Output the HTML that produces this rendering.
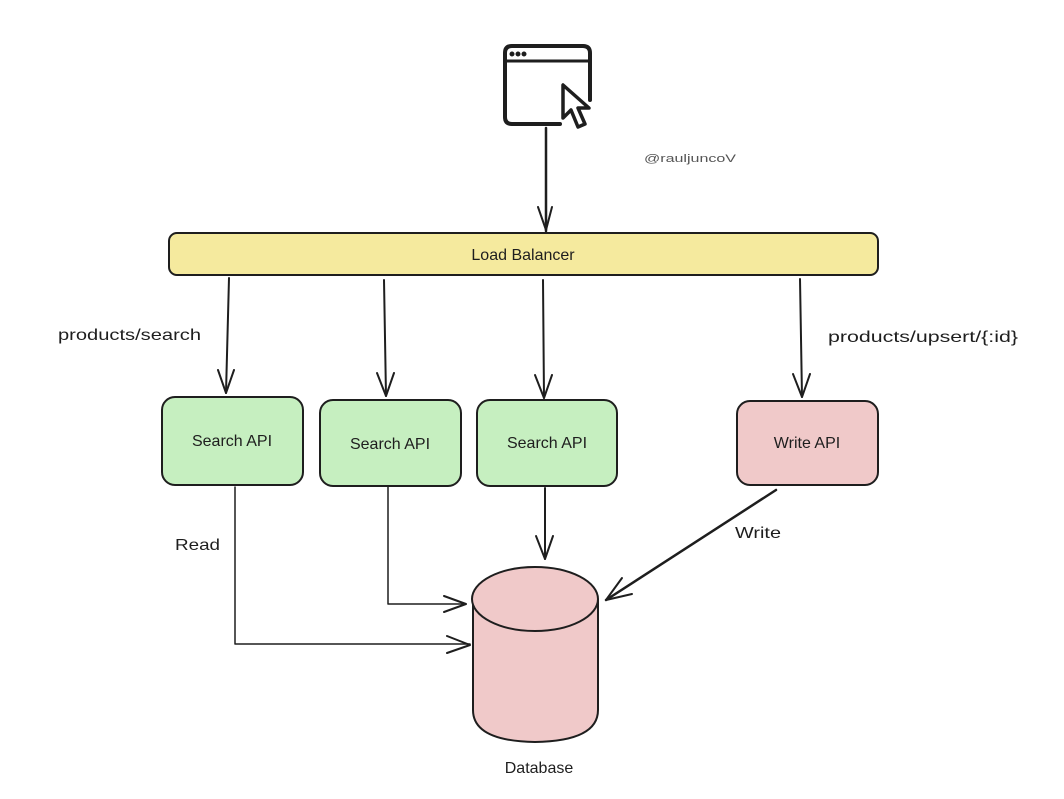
<!DOCTYPE html>
<html><head><meta charset="utf-8"><style>
body{margin:0;background:#fff;width:1064px;height:799px;overflow:hidden}
svg{display:block}
.h{font-family:"Liberation Sans",sans-serif;font-size:16px;fill:#1e1e1e}
.n{font-family:"Liberation Sans",sans-serif;font-size:16px;fill:#1e1e1e}
</style></head><body>
<svg width="1064" height="799" viewBox="0 0 1064 799" xmlns="http://www.w3.org/2000/svg">
<g fill="none" stroke="#1e1e1e" stroke-width="2" stroke-linecap="round" stroke-linejoin="round">
<path d="M560,124 H512 Q505,124 505,117 V53 Q505,46 512,46 H583 Q590,46 590,53 V100" stroke-width="4"/>
<path d="M506,61 H589" stroke-width="3"/>
<path d="M563,85 L563,118 L571,110 L578,127 L585,124 L578,108 L589,108 Z" stroke-width="3.5"/>
<circle cx="512" cy="54" r="1.5" fill="#1e1e1e"/><circle cx="518" cy="54" r="1.5" fill="#1e1e1e"/><circle cx="524" cy="54" r="1.5" fill="#1e1e1e"/>
<path d="M546,128 V231" stroke-width="2.5"/><path d="M538,207 L546,230 L552,207"/>
<rect x="169" y="233" width="709" height="42" rx="8" fill="#f5ea9e"/>
<path d="M229,278 L226,393"/><path d="M218,370 L226,393 L234,370"/>
<path d="M384,280 L386,396"/><path d="M377,373 L386,396 L394,373"/>
<path d="M543,280 L544,398"/><path d="M535,375 L544,398 L552,375"/>
<path d="M800,279 L802,397"/><path d="M793,374 L802,397 L810,374"/>
<rect x="162" y="397" width="141" height="88" rx="13" fill="#c6efc0"/>
<rect x="320" y="400" width="141" height="86" rx="13" fill="#c6efc0"/>
<rect x="477" y="400" width="140" height="86" rx="13" fill="#c6efc0"/>
<rect x="737" y="401" width="141" height="84" rx="13" fill="#f0c9c9"/>
<path d="M235,487 V644 H470" stroke-width="1.5"/><path d="M447,636 L470,645 L447,653"/>
<path d="M388,487 V604 H466" stroke-width="1.5"/><path d="M444,596 L466,604 L444,612"/>
<path d="M545,488 V559"/><path d="M536,536 L545,559 L553,536"/>
<path d="M776,490 L606,600" stroke-width="2.5"/><path d="M622,578 L606,600 L632,594"/>
<path d="M473,600 V710 Q473,741 535,742 Q598,741 598,710 V600" fill="#f0c9c9"/>
<ellipse cx="535" cy="599" rx="63" ry="32" fill="#f0c9c9"/>
</g>
<text x="644" y="162" class="h" font-size="11" style="fill:#555;font-size:11px" textLength="92" lengthAdjust="spacingAndGlyphs">@rauljuncoV</text>
<text x="523" y="260" class="n" text-anchor="middle">Load Balancer</text>
<text x="58" y="340" class="h" textLength="143" lengthAdjust="spacingAndGlyphs">products/search</text>
<text x="828" y="342" class="h" textLength="190" lengthAdjust="spacingAndGlyphs">products/upsert/{:id}</text>
<text x="232" y="446" class="n" text-anchor="middle">Search API</text>
<text x="390" y="449" class="n" text-anchor="middle">Search API</text>
<text x="547" y="448" class="n" text-anchor="middle">Search API</text>
<text x="807" y="448" class="n" text-anchor="middle">Write API</text>
<text x="175" y="550" class="h" textLength="45" lengthAdjust="spacingAndGlyphs">Read</text>
<text x="735" y="538" class="h" textLength="46" lengthAdjust="spacingAndGlyphs">Write</text>
<text x="539" y="773" class="n" text-anchor="middle">Database</text>
</svg>
</body></html>
